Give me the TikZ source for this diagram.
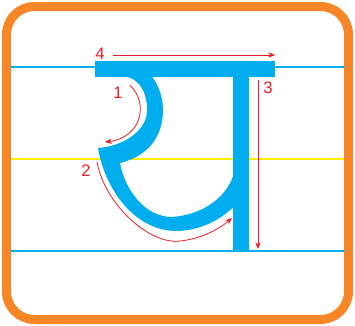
\documentclass[tikz,border=0pt]{standalone}
\usepackage{fontspec}
\setmainfont{Liberation Sans}
\usepackage{xcolor}
\usetikzlibrary{arrows.meta}
\definecolor{frameorange}{RGB}{246,134,38}
\definecolor{glyphblue}{RGB}{0,174,239}
\definecolor{guideyellow}{RGB}{255,236,0}
\definecolor{strokered}{RGB}{237,28,36}
\begin{document}
\begin{tikzpicture}[x=0.75pt,y=-0.75pt,>={Stealth[length=5pt,width=4pt]},line join=round,
  guide/.style={line width=1pt},
  strokearrow/.style={->,strokered,line width=0.6pt},
  numlabel/.style={strokered,inner sep=0pt,font=\fontsize{12.5}{12.5}\selectfont}]
  \useasboundingbox (0,0) rectangle (355,326);
  \coordinate (A4S) at (113,55);
  \coordinate (A4E) at (275,55);
  \coordinate (A3S) at (258,80);
  \coordinate (A3E) at (258,249);
  \coordinate (A1S) at (130,85);
  \coordinate (A1E) at (105,142);
  \coordinate (A2S) at (97,162);
  \coordinate (A2E) at (232,218);
  \draw[frameorange,line width=6.75pt,rounded corners=21pt] (6.5,6.5) rectangle (348.5,319.5);
  \draw[guide,glyphblue] (11,67) -- (344,67);
  \draw[guide,guideyellow,line width=1.2pt] (11,159) -- (344,159);
  \draw[guide,glyphblue,line width=1.3pt] (11,251) -- (344,251);
  % letter
  \fill[glyphblue] (95,61) rectangle (275,77);
  \fill[glyphblue] (233,76) rectangle (249,251);
  \fill[glyphblue] (123,76.5) .. controls (140,77) and (148,95) .. (147,112)
    .. controls (146,130) and (125,146) .. (98,148)
    .. controls (105,190) and (135,230) .. (175,231)
    .. controls (200,231) and (220,220) .. (233.5,207) -- (233.5,175)
    .. controls (225,200) and (200,215) .. (172,217)
    .. controls (145,217) and (125,190) .. (120,163)
    .. controls (145,157) and (162,140) .. (163,112)
    .. controls (163,95) and (158,85) .. (152,76.5) -- cycle;
  % stroke order
  \draw[strokearrow] (A4S) -- (A4E);
  \draw[strokearrow] (A3S) -- (A3E);
  \draw[strokearrow] (A1S) .. controls (150,105) and (140,138) .. (A1E);
  \draw[strokearrow] (A2S) .. controls (105,205) and (150,245) .. (180,241)
    .. controls (200,239) and (218,230) .. (A2E);
  \node[numlabel] (n1) at (118,93) {1};
  \node[numlabel] (n2) at (86,171) {2};
  \node[numlabel] (n3) at (268,88) {3};
  \node[numlabel] (n4) at (100,54) {4};
\end{tikzpicture}
\end{document}
